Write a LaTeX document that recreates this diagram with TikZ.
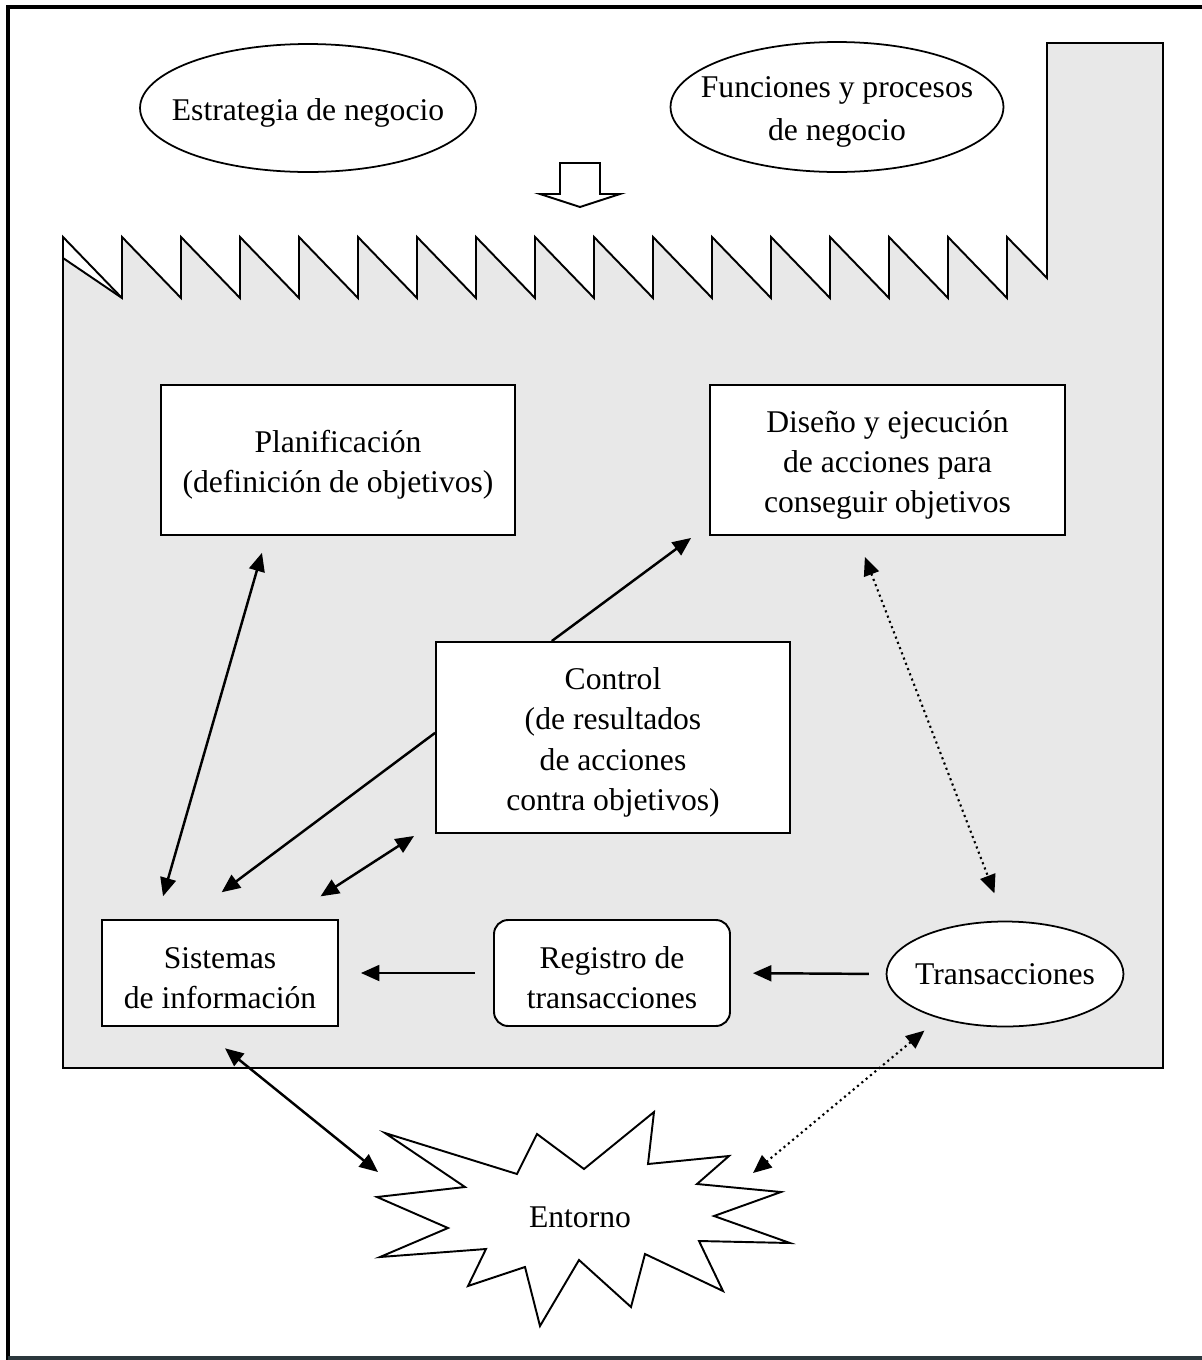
\documentclass[tikz,border=0pt]{standalone}
\usepackage{fontspec}
\setmainfont{Liberation Serif}
\usetikzlibrary{calc,arrows.meta,shapes.geometric}
\definecolor{plantgray}{HTML}{E8E8E8}
\definecolor{baseslate}{HTML}{2B383D}

\begin{document}
\begin{tikzpicture}[x=0.02cm,y=-0.02cm,
  font=\fontsize{18}{23}\selectfont,
  say/.style={label={[align=center,yshift=-2.8pt]center:#1}},
  box/.style={draw,fill=white,line width=1.1pt,inner sep=0pt},
  oval/.style={draw,fill=white,ellipse,line width=1pt,inner sep=0pt},
  link/.style={line width=1.4pt,-{Triangle[length=10.5pt,width=9pt]}},
  biLink/.style={line width=1.4pt,{Triangle[length=10.5pt,width=9pt]}-{Triangle[length=10.5pt,width=9pt]}},
  dotLink/.style={line width=1.2pt,dash pattern=on 1.2pt off 2pt,
    {Triangle[length=10.5pt,width=9pt]}-{Triangle[length=10.5pt,width=9pt]}}]
  \useasboundingbox (0,0) rectangle (1202,1360);
  \draw[line width=2.3pt] (8,1360) -- (8,7) -- (1202,7);
  \draw[baseslate,line width=2pt] (8,1358) -- (1202,1358);

  \filldraw[fill=plantgray,line width=1.1pt] (63,1068) -- (63,258) -- (122,298)
    \foreach \k in {1,...,15}{ -- ({63+59*\k},237) -- ({63+59*(\k+1)},298) }
    -- (1007,237) -- (1047,278) -- (1047,43) -- (1163,43) -- (1163,1068) -- cycle;
  \draw[line width=1.1pt] (63,258) -- (63,237) -- (122,298);
  \filldraw[fill=white,line width=1.1pt] (560,163) -- (600,163) -- (600,194) -- (620,194)
    -- (580,207) -- (540,194) -- (560,194) -- cycle;

  \node[oval,minimum width=6.72cm,minimum height=2.56cm,
    say={Estrategia de negocio}] (strat) at (308,108) {};
  \node[oval,minimum width=6.66cm,minimum height=2.6cm,
    say={Funciones y procesos\\[1pt]de negocio}] (func) at (837,107) {};

  \node[box,minimum width=7.08cm,minimum height=3cm,
    say={Planificación\\(definición de objetivos)}] (plan) at (338,460) {};
  \node[box,minimum width=7.1cm,minimum height=3cm,
    say={Diseño y ejecución\\de acciones para\\conseguir objetivos}] (dis) at (887.5,460) {};
  \node[box,minimum width=7.08cm,minimum height=3.82cm,
    say={Control\\(de resultados\\de acciones\\contra objetivos)}] (ctrl) at (613,737.5) {};
  \node[box,minimum width=4.72cm,minimum height=2.12cm,
    say={Sistemas\\de información}] (sis) at (220,973) {};
  \node[box,rounded corners=8pt,minimum width=4.72cm,minimum height=2.12cm,
    say={Registro de\\transacciones}] (reg) at (612,973) {};
  \node[oval,minimum width=4.74cm,minimum height=2.1cm] (trans) at (1005,974) {};
  \node at (trans) {Transacciones};

  \filldraw[fill=white,line width=1.1pt] (385,1133) -- (465,1187) -- (377,1197) -- (448,1228)
    -- (380,1257) -- (486,1249) -- (468,1286) -- (525,1267) -- (540,1326) -- (579,1260)
    -- (631,1307) -- (645,1254) -- (723,1291) -- (699,1241) -- (790,1243) -- (714,1216)
    -- (781,1192) -- (697,1184) -- (729,1156) -- (648,1164) -- (654,1112) -- (584,1169)
    -- (537,1134) -- (517,1174) -- cycle;
  \node (env) at (580,1217) {Entorno};
  \coordinate (envL) at (378,1172);
  \coordinate (envR) at (753,1173);

  \draw[biLink,shorten <=10pt,shorten >=13.5pt]
    ($(plan.south west)!.30!(plan.south east)$) -- ($(sis.north west)!.233!(sis.north east)$);
  \draw[link] ($(ctrl.north west)!.328!(ctrl.north east)$) -- ($(dis.south west)+(-18,2)$);
  \draw[link,shorten >=25.5pt]
    ($(ctrl.north west)!.476!(ctrl.south west)$) -- ($(sis.north west)!.356!(sis.north east)$);
  \draw[biLink,shorten <=23.8pt]
    ($(sis.north west)!.775!(sis.north east)$) -- ($(ctrl.south west)+(-21,2)$);
  \draw[link,shorten <=10.2pt,shorten >=12.5pt] (reg.west) -- (sis.east);
  \draw[link,shorten <=9.6pt,shorten >=12.5pt] (trans.west) -- (reg.east);
  \draw[dotLink,shorten <=12.8pt,shorten >=16.7pt]
    ($(dis.south west)!.414!(dis.south east)$) -- (trans.north);
  \draw[biLink,shorten <=19.3pt] ($(sis.south west)!.41!(sis.south east)$) -- (envL);
  \draw[dotLink,shorten <=10.8pt] (trans.214) -- (envR);
\end{tikzpicture}
\end{document}
